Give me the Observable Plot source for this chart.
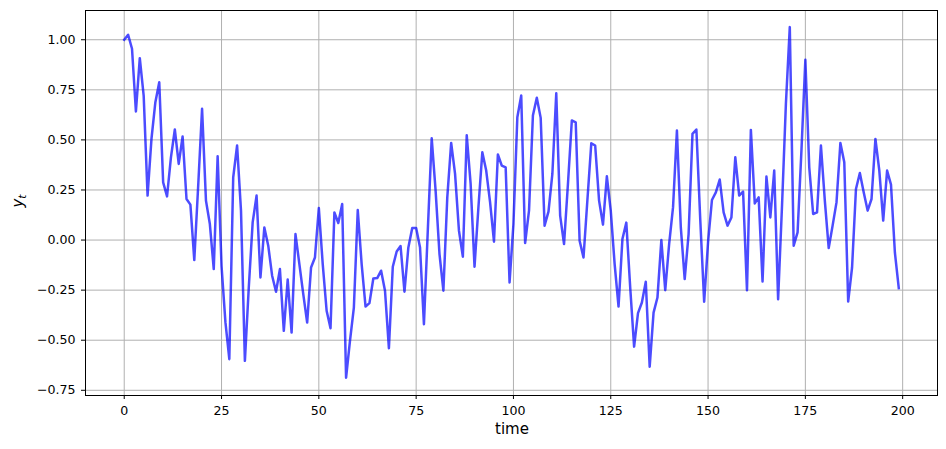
<!DOCTYPE html>
<html>
<head>
<meta charset="utf-8">
<script src="https://cdn.jsdelivr.net/npm/d3@7"></script>
<script src="https://cdn.jsdelivr.net/npm/@observablehq/plot@0.6"></script>
<style>
  html, body { margin: 0; padding: 0; background: #fff; }
  #chart svg { display: block; font-family: "DejaVu Sans", sans-serif; }
</style>
</head>
<body>
<div id="chart"></div>
<script>
const yValues = [
  1.00, 1.025, 0.955, 0.642, 0.908, 0.72, 0.222, 0.505, 0.688, 0.788,
  0.288, 0.218, 0.413, 0.552, 0.38, 0.517, 0.205, 0.177, -0.10, 0.27,
  0.655, 0.197, 0.08, -0.145, 0.418, -0.13, -0.41, -0.595, 0.313, 0.472,
  0.147, -0.603, -0.237, 0.088, 0.222, -0.187, 0.063, -0.028, -0.178, -0.258,
  -0.145, -0.453, -0.197, -0.462, 0.03, -0.12, -0.27, -0.412, -0.137, -0.087,
  0.16, -0.12, -0.353, -0.44, 0.138, 0.085, 0.18, -0.687, -0.503, -0.337,
  0.15, -0.12, -0.332, -0.315, -0.192, -0.19, -0.153, -0.253, -0.54, -0.133,
  -0.057, -0.03, -0.258, -0.037, 0.06, 0.06, -0.037, -0.42, 0.05, 0.508,
  0.247, -0.07, -0.253, 0.213, 0.485, 0.33, 0.047, -0.083, 0.523, 0.28,
  -0.133, 0.163, 0.438, 0.347, 0.188, -0.008, 0.427, 0.372, 0.363, -0.212,
  0.08, 0.613, 0.722, -0.015, 0.147, 0.622, 0.71, 0.61, 0.072, 0.142,
  0.33, 0.733, 0.122, -0.02, 0.28, 0.597, 0.588, -0.003, -0.087, 0.2,
  0.483, 0.472, 0.197, 0.077, 0.318, 0.147, -0.12, -0.332, 0.005, 0.087,
  -0.237, -0.532, -0.365, -0.312, -0.208, -0.632, -0.362, -0.287, 0.0, -0.25,
  -0.02, 0.163, 0.547, 0.063, -0.195, 0.03, 0.53, 0.552, 0.1, -0.308,
  -0.01, 0.2, 0.238, 0.302, 0.138, 0.072, 0.113, 0.413, 0.222, 0.242,
  -0.25, 0.55, 0.183, 0.213, -0.207, 0.317, 0.113, 0.347, -0.295, 0.17,
  0.68, 1.063, -0.028, 0.038, 0.45, 0.9, 0.363, 0.13, 0.138, 0.472,
  0.197, -0.04, 0.072, 0.188, 0.485, 0.388, -0.307, -0.137, 0.255, 0.335,
  0.238, 0.147, 0.205, 0.505, 0.347, 0.097, 0.347, 0.277, -0.062, -0.24
];
const xTicks = [0, 25, 50, 75, 100, 125, 150, 175, 200];
const yTicks = [-0.75, -0.5, -0.25, 0, 0.25, 0.5, 0.75, 1.0];
const xLabel = "time";

const data = yValues.map((v, i) => ({time: i, y: v}));

const W = 946, H = 449;
const mL = 85, mR = 9, mT = 10, mB = 54;

const plot = Plot.plot({
  width: W,
  height: H,
  marginLeft: mL,
  marginRight: mR,
  marginTop: mT,
  marginBottom: mB,
  style: {fontFamily: "DejaVu Sans, sans-serif", background: "#fff", color: "#000"},
  x: {domain: [-9.95, 208.95]},
  y: {domain: [-0.776, 1.146]},
  marks: [
    Plot.gridX(xTicks, {stroke: "#b0b0b0", strokeOpacity: 1, strokeWidth: 1}),
    Plot.gridY(yTicks, {stroke: "#b0b0b0", strokeOpacity: 1, strokeWidth: 1}),
    Plot.line(data, {x: "time", y: "y", stroke: "rgb(0,0,255)", strokeOpacity: 0.7, strokeWidth: 2.5, strokeLinejoin: "round", strokeLinecap: "square"}),
    Plot.frame({stroke: "#000", strokeWidth: 1}),
    Plot.axisX(xTicks, {label: null, tickSize: 4, tickPadding: 7, fontSize: 12.6, stroke: "#000", fill: "#000", tickFormat: d => String(d)}),
    Plot.axisY(yTicks, {label: null, tickSize: 4, tickPadding: 6, fontSize: 12.6, stroke: "#000", fill: "#000", tickFormat: d3.format(".2f")})
  ]
});

const svg = d3.select(plot);
svg.append("text")
  .attr("x", mL + (W - mL - mR) / 2 + 1)
  .attr("y", 434)
  .attr("text-anchor", "middle")
  .attr("font-size", 15)
  .attr("fill", "#000")
  .text(xLabel);

const yl = svg.append("text")
  .attr("transform", "translate(23,201) rotate(-90)")
  .attr("text-anchor", "middle")
  .attr("font-size", 15)
  .attr("fill", "#000");
yl.append("tspan").attr("font-style", "italic").text("y");
yl.append("tspan").attr("font-style", "italic").attr("font-size", 10.5).attr("dy", 3).text("t");

document.getElementById("chart").appendChild(plot);
</script>
</body>
</html>
